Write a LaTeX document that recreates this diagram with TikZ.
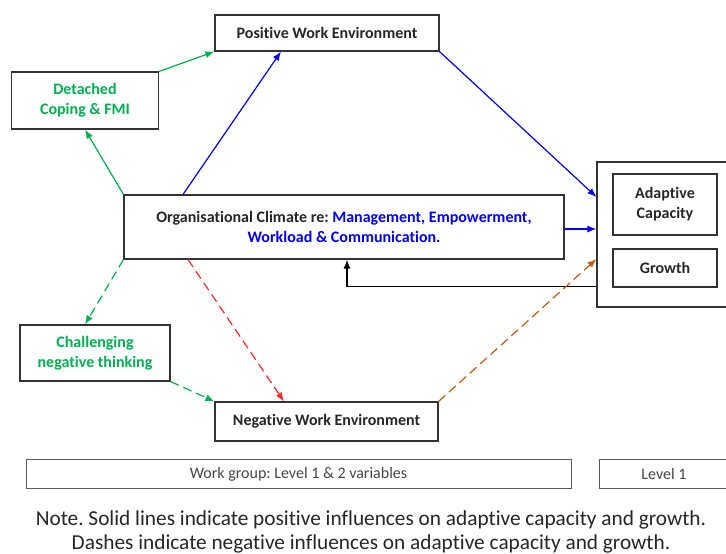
\documentclass[tikz,border=0pt]{standalone}
\usepackage{fontspec}
\setmainfont{Carlito}[RawFeature={-liga}]
\usetikzlibrary{arrows.meta}
\frenchspacing
\definecolor{cgreen}{RGB}{0,176,80}
\definecolor{cblue}{RGB}{0,0,255}
\definecolor{cred}{RGB}{255,40,40}
\definecolor{cbrown}{RGB}{197,90,17}
\definecolor{cgrey}{RGB}{70,70,70}
\begin{document}
\begin{tikzpicture}[x=1pt,y=-1pt,
  box/.style={draw=black!80, line width=1.1pt, inner sep=0pt, align=center,
    font=\fontsize{16}{20}\selectfont\bfseries, text=black!85},
  plainbox/.style={draw=black!65, line width=0.9pt, inner sep=0pt, align=center,
    font=\fontsize{16}{19}\selectfont, text=cgrey},
  link/.style={line width=1.2pt, -{Latex[length=9pt,width=7pt]}},
  dashlink/.style={link, dash pattern=on 9pt off 5pt}]
\useasboundingbox (0,0) rectangle (726,554);

% factor boxes
\node[box, minimum width=224pt, minimum height=36pt] (pwe) at (327,33) {Positive Work Environment};
\node[box, minimum width=147pt, minimum height=57pt, text=cgreen] (det) at (85,100.5) {Detached\\Coping \& FMI};
\node[box, minimum width=440pt, minimum height=64pt] (org) at (344,227)
  {Organisational Climate re: \textcolor{cblue}{Management, Empowerment,}\\\textcolor{cblue}{Workload \& Communication.}};
\node[box, minimum width=150pt, minimum height=56pt, text=cgreen] (chal) at (95,353) {Challenging\\negative thinking};
\node[box, minimum width=223pt, minimum height=39pt] (nwe) at (326.5,421.5) {Negative Work Environment};

% outcome group
\node[draw=black!80, line width=1.1pt, minimum width=132pt, minimum height=145pt, inner sep=0pt] (out) at (663,234.5) {};
\node[box, minimum width=104pt, minimum height=61pt] (adap) at (665,204.5) {Adaptive\\Capacity};
\node[box, minimum width=104pt, minimum height=38pt] (grow) at (665,268) {Growth};

% level labels
\node[plainbox, minimum width=545pt, minimum height=29pt] (wg) at (298.5,474) {Work group: Level 1 \& 2 variables};
\node[plainbox, minimum width=130pt, minimum height=29pt] (lv) at (664,474) {Level 1};

% note
\node[align=center, font=\fontsize{21.3}{24}\selectfont, text=black!85] (note) at (371,531.5)
  {Note. Solid lines indicate positive influences on adaptive capacity and growth.\\
   Dashes indicate negative influences on adaptive capacity and growth.};

% positive paths
\draw[link, cgreen] (det.north east) -- (pwe.south west);
\draw[link, cgreen] (org.north west) -- (det.south);
\draw[link, cblue] (org.north west -| 183,0) -- (pwe.south west -| 281,0);
\draw[link, cblue] (pwe.south east) -- (out.west |- 0,197);
\draw[link, cblue] (org.east |- 0,229) -- (out.west |- 0,229);
\coordinate (fb) at (347,286.5);
\draw[link, black] (out.west |- fb) -- (fb) -- (org.south -| fb);

% negative paths
\draw[dashlink, cgreen] (org.south west) -- (chal.north -| 85,0);
\draw[dashlink, cgreen] (chal.south east) -- (nwe.north west);
\draw[dashlink, cred] (org.south -| 188,0) -- (nwe.north -| 284,0);
\draw[dashlink, cbrown] (nwe.north east) -- (out.west |- 0,259);
\end{tikzpicture}
\end{document}
